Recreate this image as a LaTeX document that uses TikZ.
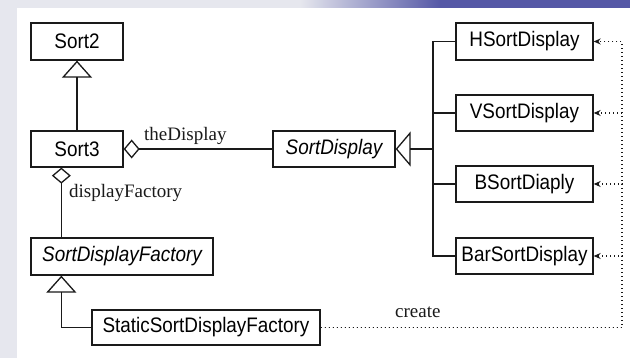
\documentclass[tikz,border=0pt]{standalone}
\usepackage{fontspec}
\setmainfont{Liberation Serif}
\newfontfamily\boxfont[FakeStretch=0.9]{Liberation Sans}
\usetikzlibrary{arrows.meta,calc}
\definecolor{bgleft}{HTML}{E6E7EE}
\definecolor{bgblue}{HTML}{5558A6}
\definecolor{ink}{HTML}{1A1A1A}
\begin{document}
\begin{tikzpicture}[x=1pt,y=-1pt,
  cls/.style={draw=ink, line width=1.3pt, fill=white, inner sep=0pt,
    font=\boxfont\fontsize{21}{21}\selectfont, minimum width=#1, minimum height=36pt},
  lbl/.style={inner sep=0pt, font=\fontsize{19}{19}\selectfont, text=ink},
  conn/.style={draw=ink, line width=1.3pt},
  inh/.style={conn, -{Triangle[open,length=17pt,width=30pt]}},
  inhs/.style={conn, -{Triangle[open,length=15pt,width=35pt]}},
  agg/.style={conn, {Diamond[open,length=16pt,width=19pt]}-},
  dep/.style={draw=ink, line width=1.2pt, dash pattern=on 1.2pt off 2.8pt,
    -{Stealth[length=7pt,width=6pt]}}]
\useasboundingbox (0,0) rectangle (630,358);
% background
\fill[bgleft] (0,0) rectangle (630,358);
\fill[bgblue] (440,0) rectangle (630,8);
\shade[left color=bgleft, right color=bgblue] (300,0) rectangle (440,8);
\fill[white] (17,8) rectangle (630,358);
% classes
\node[cls=92pt, minimum height=37pt] (sort2) at (77,41.5) {Sort2};
\node[cls=92pt] (sort3) at (77,149) {Sort3};
\node[cls=122pt] (sd) at (334,149) {\itshape SortDisplay};
\node[cls=137pt, minimum height=37pt] (H) at (524.5,41.5) {HSortDisplay};
\node[cls=137pt] (V) at (524.5,113) {VSortDisplay};
\node[cls=137pt] (B) at (524.5,184) {BSortDiaply};
\node[cls=137pt] (Bar) at (524.5,256) {BarSortDisplay};
\node[cls=182pt, minimum height=37pt] (sdf) at (122,256.5) {\itshape SortDisplayFactory};
\node[cls=228pt, minimum height=35pt] (ssdf) at (206,327.5) {StaticSortDisplayFactory};
% generalisations
\draw[inh] (sort3.north) -- (sort2.south);
\coordinate (bus) at (433,149);
\draw[inhs] (bus) -- (sd.east);
\draw[conn] (bus) |- (H.west);
\draw[conn] (bus) |- (V.west);
\draw[conn] (bus) |- (B.west);
\draw[conn] (bus) |- (Bar.west);
\draw[inh] (ssdf.west) -| ($(sdf.south west)+(31,0)$);
% aggregations
\draw[agg] (sort3.east) -- (sd.west);
\draw[agg] ($(sort3.south west)+(31,0)$) -- ($(sdf.north west)+(31,0)$);
% dependencies
\coordinate (corner) at (622,327.5);
\draw[dep] (ssdf.east) -- (corner) |- (H.east);
\draw[dep] (ssdf.east) -- (corner) |- (V.east);
\draw[dep] (ssdf.east) -- (corner) |- (B.east);
\draw[dep] (ssdf.east) -- (corner) |- (Bar.east);
% labels
\node[lbl, anchor=base west] (ltd) at (144,141) {theDisplay};
\node[lbl, anchor=base west] (ldf) at (69,198) {displayFactory};
\node[lbl, anchor=base west] (lcr) at (395,318) {create};
\end{tikzpicture}
\end{document}
